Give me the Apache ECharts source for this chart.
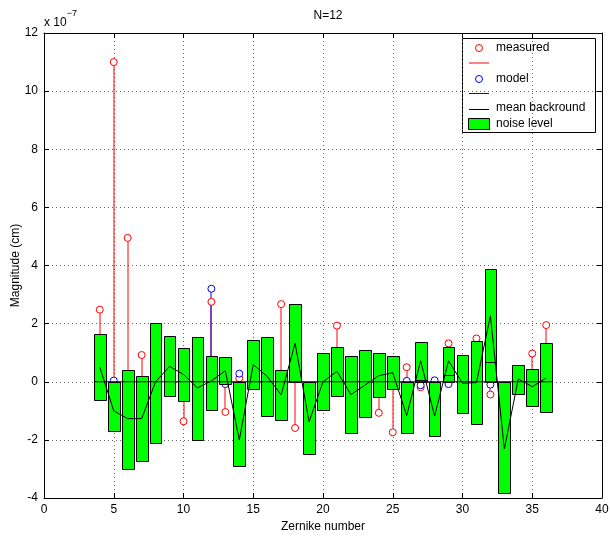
<!DOCTYPE html>
<html>
<head>
<meta charset="utf-8">
<script src="https://cdn.jsdelivr.net/npm/echarts@6/dist/echarts.min.js"></script>
<style>
  html, body { margin: 0; padding: 0; background: #fff; }
  #main { width: 610px; height: 536px; }
</style>
</head>
<body>
<div id="main"></div>
<script>
// values in units of 1e-7 cm, Zernike numbers 4..36
const zernike = [4, 5, 6, 7, 8, 9, 10, 11, 12, 13, 14, 15, 16, 17, 18, 19, 20,
  21, 22, 23, 24, 25, 26, 27, 28, 29, 30, 31, 32, 33, 34, 35, 36]
const measured = [2.48, 11.0, 4.95, 0.92, null, null, -1.36, null, 2.75, -1.04, 0.12, null, null, 2.67, -1.59, null, null,
  1.93, null, null, -1.07, -1.74, 0.5, -0.19, null, 1.32, null, 1.49, -0.44, null, null, 0.97, 1.95]
const model = [null, 0.04, null, null, null, null, null, null, 3.2, -0.08, 0.28, null, null, null, null, null, null,
  null, null, null, null, null, 0.03, -0.12, 0.05, -0.08, null, null, -0.1, null, null, null, null]
const meanBackground = [0.5, -1.0, -1.27, -1.27, 0.0, 0.53, 0.25, -0.21, 0.03, 0.38, -2.0, 0.59, 0.18, -0.45, 1.33, -1.38, 0.0,
  0.36, -0.44, -0.12, 0.21, 0.31, -1.16, 0.72, -1.18, 0.72, -0.05, -0.03, 2.27, -2.31, 0.1, -0.17, 0.13]
const noiseLow = [-0.62, -1.70, -3.0, -2.73, -2.10, -0.49, -0.65, -2.0, -0.96, -0.08, -2.89, -0.26, -1.19, -1.31, 0, -2.5, -0.97,
  -0.49, -1.77, -1.22, -0.54, -0.25, -1.76, 0, -1.86, 0, -1.07, -1.46, 0, -3.82, -0.42, -0.83, -1.05]
const noiseHigh = [1.63, 0, 0.42, 0.19, 2.01, 1.56, 1.15, 1.55, 0.89, 0.85, 0, 1.44, 1.53, 0.40, 2.69, 0, 0.98,
  1.21, 0.87, 1.09, 0.99, 0.87, 0, 1.38, 0, 1.2, 0.93, 1.41, 3.88, 0, 0.58, 0.44, 1.32]
// inner edge of the stacked noise bars (where visible)
const noiseSplit = [null, null, null, null, null, null, null, null, null, null, null, null, null, null, null, null, null,
  null, null, null, null, null, null, 0.07, null, 0.23, null, null, 0.67, null, null, null, null]

const barHalf = 0.42
const font = 'Liberation Sans, Arial, Helvetica, sans-serif'

const pairs = (vals) => zernike.map((n, i) => [n, vals[i]]).filter(p => p[1] !== null)
const measuredPts = pairs(measured)
const modelPts = pairs(model)

const stemSeries = (pts, color, width, z) => ({
  type: 'custom',
  z: z,
  silent: true,
  data: pts,
  renderItem: function (params, api) {
    const a = api.coord([api.value(0), 0])
    const b = api.coord([api.value(0), api.value(1)])
    const x = Math.round(a[0])
    return {
      type: 'line',
      shape: { x1: x, y1: a[1], x2: x, y2: b[1] },
      style: { stroke: color, lineWidth: width, fill: null }
    }
  }
})

const circleSeries = (pts, color, z) => ({
  type: 'scatter',
  z: z,
  silent: true,
  data: pts,
  symbol: 'circle',
  symbolSize: 7,
  itemStyle: { color: '#fff', borderColor: color, borderWidth: 1, opacity: 1 }
})

const axisCommon = {
  axisLine: { onZero: false, lineStyle: { color: '#000', width: 1 } },
  axisTick: { inside: true, length: 5, lineStyle: { color: '#000' } }
}

const myChart = echarts.init(document.getElementById('main'))
const option = {
  animation: false,
  backgroundColor: '#fff',
  title: {
    text: 'N=12',
    left: 323,
    top: 5,
    textAlign: 'center',
    textStyle: { fontFamily: font, fontSize: 12, fontWeight: 'normal', color: '#000' }
  },
  grid: { left: 44, right: 8, top: 33, bottom: 38, containLabel: false, outerBoundsMode: 'none' },
  xAxis: [{
    type: 'value',
    min: 0, max: 40, interval: 5,
    name: 'Zernike number',
    nameLocation: 'middle',
    nameGap: 21,
    nameTextStyle: { fontFamily: font, fontSize: 12, color: '#000' },
    ...axisCommon,
    axisLabel: { margin: 6, fontFamily: font, fontSize: 12, color: '#000' },
    splitLine: { show: true, lineStyle: { color: '#666', type: [1, 3], width: 1 } }
  }, {
    type: 'value', position: 'top',
    min: 0, max: 40, interval: 5,
    ...axisCommon,
    axisLabel: { show: false },
    splitLine: { show: false }
  }],
  yAxis: [{
    type: 'value',
    min: -4, max: 12, interval: 2,
    name: 'Magnitude (cm)',
    nameLocation: 'middle',
    nameGap: 22,
    nameMoveOverlap: false,
    nameTextStyle: { fontFamily: font, fontSize: 12, color: '#000' },
    ...axisCommon,
    axisLabel: { margin: 6, fontFamily: font, fontSize: 12, color: '#000' },
    splitLine: { show: true, lineStyle: { color: '#666', type: [1, 3], width: 1 } }
  }, {
    type: 'value', position: 'right',
    min: -4, max: 12, interval: 2,
    ...axisCommon,
    axisLabel: { show: false },
    splitLine: { show: false }
  }],
  series: [
    stemSeries(measuredPts, '#ff0000', 1, 2),
    stemSeries(modelPts, '#0000ff', 1, 3),
    circleSeries(measuredPts, '#ff0000', 4),
    circleSeries(modelPts, '#0000ff', 5),
    {
      // noise level bars
      type: 'custom',
      z: 6,
      silent: true,
      data: zernike.map((n, i) => [n, noiseLow[i], noiseHigh[i]]),
      renderItem: function (params, api) {
        const n = api.value(0)
        const p1 = api.coord([n - barHalf, api.value(2)])
        const p2 = api.coord([n + barHalf, api.value(1)])
        const x1 = Math.round(p1[0]) + 0.5, x2 = Math.round(p2[0]) + 0.5
        const y1 = Math.round(p1[1]) + 0.5, y2 = Math.round(p2[1]) + 0.5
        const children = [{
          type: 'rect',
          shape: { x: x1, y: y1, width: x2 - x1, height: y2 - y1 },
          style: { fill: '#00ff00', stroke: '#000', lineWidth: 1 }
        }]
        const sp = noiseSplit[params.dataIndex]
        if (sp !== null) {
          const ys = Math.round(api.coord([n, sp])[1]) + 0.5
          children.push({ type: 'line', shape: { x1: x1, y1: ys, x2: x2, y2: ys }, style: { stroke: '#000', lineWidth: 1 } })
        }
        return { type: 'group', children: children }
      }
    },
    {
      // bar baseline at zero
      type: 'line',
      z: 7,
      silent: true,
      symbol: 'none',
      data: [[zernike[0] - barHalf, 0], [zernike[zernike.length - 1] + barHalf, 0]],
      lineStyle: { color: '#000', width: 1 }
    },
    {
      type: 'line',
      z: 8,
      silent: true,
      symbol: 'none',
      data: zernike.map((n, i) => [n, meanBackground[i]]),
      lineStyle: { color: '#000', width: 1 }
    }
  ],
  graphic: [
    {
      type: 'text',
      left: 44, top: 9,
      style: {
        text: '{a|x 10}{b|−7}',
        rich: {
          a: { fontFamily: font, fontSize: 12, fill: '#000', verticalAlign: 'bottom', lineHeight: 20 },
          b: { fontFamily: font, fontSize: 9, fill: '#000', verticalAlign: 'top', lineHeight: 12 }
        }
      }
    },
    {
      type: 'group',
      left: 462, top: 38,
      children: [
        { type: 'rect', shape: { x: 0.5, y: 0.5, width: 133, height: 94 }, style: { fill: '#fff', stroke: '#000', lineWidth: 1 } },
        { type: 'circle', shape: { cx: 17, cy: 10, r: 3.5 }, style: { fill: '#fff', stroke: '#ff0000', lineWidth: 1 } },
        { type: 'text', x: 34, y: 10, style: { text: 'measured', fontFamily: font, fontSize: 12, fill: '#000', verticalAlign: 'middle' } },
        { type: 'line', shape: { x1: 7, y1: 25, x2: 27, y2: 25 }, style: { stroke: '#ff0000', lineWidth: 1 } },
        { type: 'circle', shape: { cx: 17, cy: 41, r: 3.5 }, style: { fill: '#fff', stroke: '#0000ff', lineWidth: 1 } },
        { type: 'text', x: 34, y: 41, style: { text: 'model', fontFamily: font, fontSize: 12, fill: '#000', verticalAlign: 'middle' } },
        { type: 'line', shape: { x1: 7, y1: 55.5, x2: 27, y2: 55.5 }, style: { stroke: '#0000ff', lineWidth: 1 } },
        { type: 'line', shape: { x1: 7, y1: 71.5, x2: 27, y2: 71.5 }, style: { stroke: '#000', lineWidth: 1 } },
        { type: 'text', x: 34, y: 70, style: { text: 'mean backround', fontFamily: font, fontSize: 12, fill: '#000', verticalAlign: 'middle' } },
        { type: 'rect', shape: { x: 6.5, y: 80.5, width: 21, height: 11 }, style: { fill: '#00ff00', stroke: '#000', lineWidth: 1 } },
        { type: 'text', x: 34, y: 86, style: { text: 'noise level', fontFamily: font, fontSize: 12, fill: '#000', verticalAlign: 'middle' } }
      ]
    }
  ]
}
myChart.setOption(option)
</script>
</body>
</html>
